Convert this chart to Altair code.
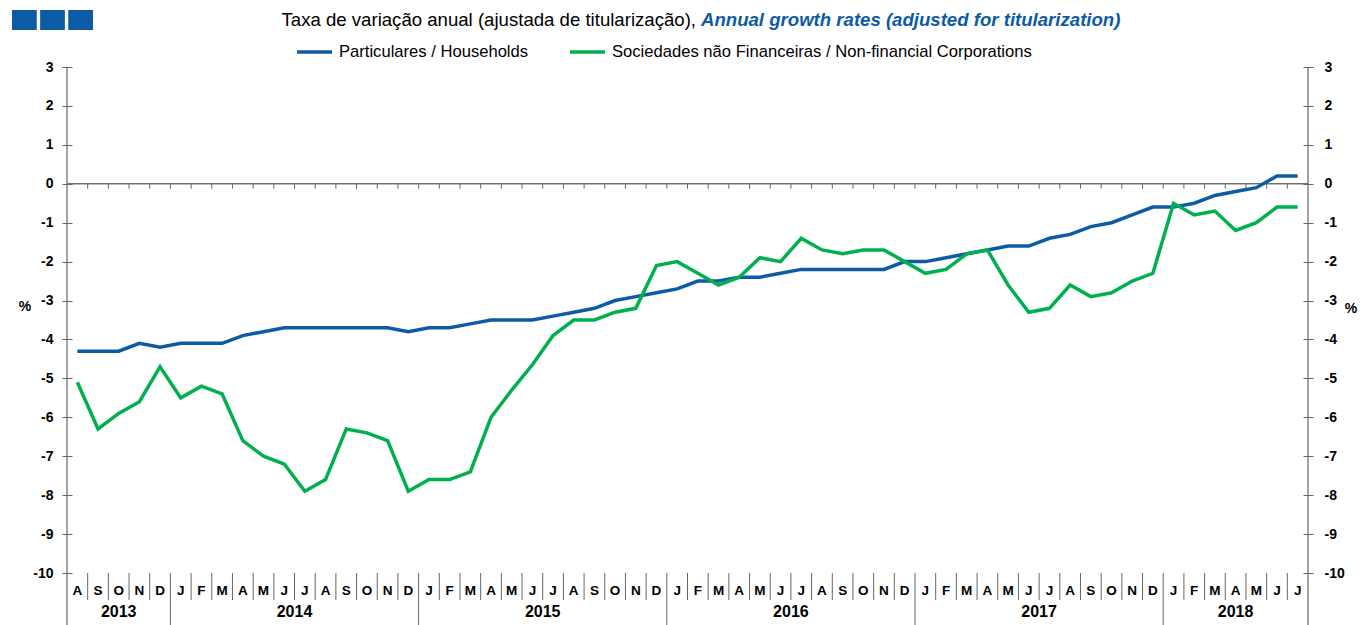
import altair as alt
import pandas as pd

# ---------------- data ----------------
years = ["2013", "2014", "2015", "2016", "2017", "2018"]
year_letters = [
    ["A", "S", "O", "N", "D"],
    ["J", "F", "M", "A", "M", "J", "J", "A", "S", "O", "N", "D"],
    ["J", "F", "M", "A", "M", "J", "J", "A", "S", "O", "N", "D"],
    ["J", "F", "M", "A", "M", "J", "J", "A", "S", "O", "N", "D"],
    ["J", "F", "M", "A", "M", "J", "J", "A", "S", "O", "N", "D"],
    ["J", "F", "M", "A", "M", "J", "J"],
]

series_names = ["Particulares / Households",
                "Sociedades não Financeiras / Non-financial Corporations"]

households = [
    -4.3, -4.3, -4.3, -4.1, -4.2,
    -4.1, -4.1, -4.1, -3.9, -3.8, -3.7, -3.7, -3.7, -3.7, -3.7, -3.7, -3.8,
    -3.7, -3.7, -3.6, -3.5, -3.5, -3.5, -3.4, -3.3, -3.2, -3.0, -2.9, -2.8,
    -2.7, -2.5, -2.5, -2.4, -2.4, -2.3, -2.2, -2.2, -2.2, -2.2, -2.2, -2.0,
    -2.0, -1.9, -1.8, -1.7, -1.6, -1.6, -1.4, -1.3, -1.1, -1.0, -0.8, -0.6,
    -0.6, -0.5, -0.3, -0.2, -0.1, 0.2, 0.2,
]
corporations = [
    -5.1, -6.3, -5.9, -5.6, -4.7,
    -5.5, -5.2, -5.4, -6.6, -7.0, -7.2, -7.9, -7.6, -6.3, -6.4, -6.6, -7.9,
    -7.6, -7.6, -7.4, -6.0, -5.3, -4.65, -3.9, -3.5, -3.5, -3.3, -3.2, -2.1,
    -2.0, -2.3, -2.6, -2.4, -1.9, -2.0, -1.4, -1.7, -1.8, -1.7, -1.7, -2.0,
    -2.3, -2.2, -1.8, -1.7, -2.6, -3.3, -3.2, -2.6, -2.9, -2.8, -2.5, -2.3,
    -0.5, -0.8, -0.7, -1.2, -1.0, -0.6, -0.6,
]

y_ticks = list(range(-10, 4))

subtitle_pt = "Taxa de variação anual (ajustada de titularização),"
subtitle_en = "Annual growth rates (adjusted for titularization)"

# ---------------- derived tables ----------------
letters = [m for ys in year_letters for m in ys]
n = len(letters)
counts = [len(ys) for ys in year_letters]
year_bounds = []
acc = 0
year_centers = []
for c in counts:
    year_centers.append(acc + c / 2)
    acc += c
    year_bounds.append(acc)
inner_year_bounds = year_bounds[:-1]
month_bounds = [b for b in range(1, n) if b not in inner_year_bounds]

lines_df = pd.DataFrame({
    "pos": [i + 0.5 for i in range(n)] * 2,
    "value": households + corporations,
    "series": [series_names[0]] * n + [series_names[1]] * n,
})
letters_df = pd.DataFrame({"pos": [i + 0.5 for i in range(n)], "label": letters})
years_df = pd.DataFrame({"pos": year_centers, "label": years})
month_b_df = pd.DataFrame({"b": month_bounds})
year_b_df = pd.DataFrame({"b": inner_year_bounds})
edge_df = pd.DataFrame({"b": [0, n]})
zero_ticks_df = pd.DataFrame({"b": list(range(1, n))})

# ---------------- style ----------------
W, H = 1241, 506
BLUE = "#0D5BA5"
GREEN = "#00B04F"
AXC = "#666666"
FONT = "Liberation Sans"
LABEL_EXPR = "'' + datum.value"

xs = alt.Scale(domain=[0, n], nice=False, zero=False)
ys = alt.Scale(domain=[-10, 3], nice=False, zero=False)

X = lambda f: alt.X(f, type="quantitative", scale=xs, axis=None)

lines = alt.Chart(lines_df).mark_line(strokeWidth=3.5).encode(
    x=X("pos"),
    y=alt.Y("value:Q", scale=ys,
            axis=alt.Axis(orient="left", values=y_ticks, tickSize=10, offset=-5,
                          domain=False, grid=False, labelFont=FONT,
                          labelFontSize=14, labelFontWeight="bold",
                          labelColor="#000000", labelPadding=9,
                          labelExpr=LABEL_EXPR,
                          tickColor=AXC, title=None)),
    color=alt.Color("series:N",
                    scale=alt.Scale(domain=series_names, range=[BLUE, GREEN]),
                    legend=alt.Legend(orient="none", legendX=228, legendY=-35,
                                      direction="horizontal", title=None,
                                      symbolType="stroke", symbolSize=1225,
                                      symbolStrokeWidth=3.5, labelFont=FONT,
                                      labelFontSize=16.6, labelColor="#000000",
                                      labelOffset=5, labelLimit=0,
                                      columnPadding=34, padding=0)),
)

right_axis = alt.Chart(lines_df).mark_line(opacity=0).encode(
    x=X("pos"),
    y=alt.Y("value:Q", scale=ys,
            axis=alt.Axis(orient="right", values=y_ticks, tickSize=10, offset=-5,
                          domain=False, grid=False, labelFont=FONT,
                          labelFontSize=14, labelFontWeight="bold",
                          labelColor="#000000", labelPadding=11,
                          labelExpr=LABEL_EXPR,
                          tickColor=AXC, title=None)),
    detail="series:N",
)

zero_line = alt.Chart(edge_df).mark_rule(color=AXC, strokeWidth=1.2).encode(
    x=alt.value(0), x2=alt.value(W),
    y=alt.Y("zero:Q", scale=ys, axis=None),
).transform_calculate(zero="0")

zero_ticks = alt.Chart(zero_ticks_df).mark_rule(color=AXC, strokeWidth=1, y2Offset=5).encode(
    x=X("b"),
    y=alt.Y("zero:Q", scale=ys, axis=None),
    y2="zero2:Q",
).transform_calculate(zero="0", zero2="0")

edges = alt.Chart(edge_df).mark_rule(color=AXC, strokeWidth=1.2).encode(
    x=X("b"), y=alt.value(0), y2=alt.value(H + 60),
)

month_seps = alt.Chart(month_b_df).mark_rule(color=AXC, strokeWidth=1).encode(
    x=X("b"), y=alt.value(H), y2=alt.value(H + 27),
)
year_seps = alt.Chart(year_b_df).mark_rule(color=AXC, strokeWidth=1).encode(
    x=X("b"), y=alt.value(H), y2=alt.value(H + 60),
)

month_text = alt.Chart(letters_df).mark_text(
    font=FONT, fontSize=13.5, fontWeight="bold", color="#000000", baseline="middle"
).encode(x=X("pos"), y=alt.value(H + 18), text="label:N")

year_text = alt.Chart(years_df).mark_text(
    font=FONT, fontSize=16, fontWeight="bold", color="#000000", baseline="middle"
).encode(x=X("pos"), y=alt.value(H + 39), text="label:N")

sub_pt = alt.Chart(pd.DataFrame({"t": [subtitle_pt]})).mark_text(
    font=FONT, fontSize=18.6, color="#000000", align="right", baseline="middle"
).encode(x=alt.value(629), y=alt.value(-47), text="t:N")

sub_en = alt.Chart(pd.DataFrame({"t": [subtitle_en]})).mark_text(
    font=FONT, fontSize=18.6, fontWeight="bold", fontStyle="italic", color=BLUE,
    align="left", baseline="middle"
).encode(x=alt.value(634), y=alt.value(-47), text="t:N")

squares_df = pd.DataFrame({"k": [0, 1, 2]})
squares = alt.Chart(squares_df).mark_rect(color=BLUE).encode(
    x=alt.X("k:O", axis=None, scale=alt.Scale(range=[-55, 26], paddingInner=0.12, paddingOuter=0)),
    y=alt.value(-57), y2=alt.value(-37),
)

pct_left = alt.Chart(pd.DataFrame({"t": ["%"]})).mark_text(
    font=FONT, fontSize=14, fontWeight="bold", color="#000000"
).encode(x=alt.value(-42), y=alt.value(240), text="t:N")
pct_right = alt.Chart(pd.DataFrame({"t": ["%"]})).mark_text(
    font=FONT, fontSize=14, fontWeight="bold", color="#000000"
).encode(x=alt.value(W + 43), y=alt.value(242), text="t:N")

chart = alt.layer(
    zero_line, zero_ticks, edges, month_seps, year_seps,
    month_text, year_text, sub_pt, sub_en, squares, pct_left, pct_right,
    lines, right_axis,
).resolve_scale(y="independent").properties(
    width=W, height=H,
    autosize=alt.AutoSizeParams(type="none"),
    padding={"left": 59, "top": 59, "right": 50, "bottom": 52},
    background="white",
).configure_view(stroke=None)

chart.save("out.html", embed_options={"renderer": "svg", "actions": False})
